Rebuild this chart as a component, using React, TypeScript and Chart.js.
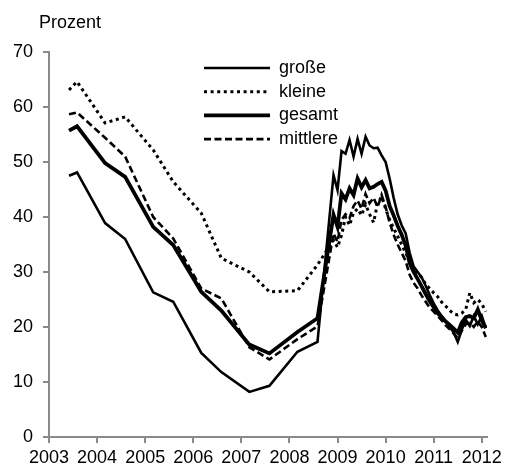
import React, { useEffect, useRef } from "react";
import { Chart, registerables } from "chart.js";

Chart.register(...registerables);

// Survey periods (semi-annual until 2008, monthly afterwards)
const periods: string[] = [
  "2003-06", "2003-08", "2004-03", "2004-08", "2005-03", "2005-08",
  "2006-03", "2006-08", "2007-03", "2007-08", "2008-03", "2008-08",
  "2008-12",
  "2009-01", "2009-02", "2009-03", "2009-04", "2009-05", "2009-06",
  "2009-07", "2009-08", "2009-09", "2009-10", "2009-11", "2009-12",
  "2010-01", "2010-02", "2010-03", "2010-04", "2010-05", "2010-06",
  "2010-07", "2010-08", "2010-09", "2010-10", "2010-11", "2010-12",
  "2011-01", "2011-02", "2011-03", "2011-04", "2011-05", "2011-06",
  "2011-07", "2011-08", "2011-09", "2011-10", "2011-11", "2011-12",
  "2012-01", "2012-02",
];

const grosse: number[] = [
  47.5, 48.1, 38.9, 36.0, 26.3, 24.6, 15.3, 11.8, 8.2, 9.3, 15.5, 17.3,
  47.6,
  44.9, 52.0, 51.5, 54.0, 51.0, 54.2, 51.5, 54.6, 53.0, 52.5, 52.6, 51.2,
  50.0, 47.0, 43.5, 40.5, 38.5, 37.0, 33.5, 31.0, 30.0, 29.0, 27.5, 25.8,
  24.3, 23.0, 22.0, 21.0, 20.0, 19.0, 17.3, 19.5, 21.3, 20.2, 22.0, 20.5,
  22.0, 19.8,
];

const kleine: number[] = [
  63.1, 64.6, 57.1, 58.2, 52.2, 46.4, 40.7, 32.5, 30.0, 26.4, 26.6, 31.3,
  35.8,
  34.5, 36.7, 40.0, 38.5, 40.8, 41.5, 40.3, 42.3, 40.5, 39.0, 42.5, 43.7,
  41.5, 39.5, 38.0, 36.5, 35.0, 33.5, 32.0, 30.5, 29.8, 29.0, 27.8, 27.0,
  26.2, 25.5, 24.5, 23.8, 23.0, 22.4, 22.2, 22.5, 23.2, 26.2, 24.4, 25.0,
  24.2, 22.8,
];

const gesamt: number[] = [
  55.7, 56.5, 49.8, 47.3, 38.2, 34.9, 26.4, 23.0, 16.8, 15.2, 19.1, 21.6,
  40.4,
  38.2, 44.3, 43.2, 45.2, 44.0, 47.0, 45.4, 46.7, 45.2, 45.5, 46.0, 46.4,
  44.8, 42.0, 40.3, 38.4, 36.8, 34.8, 31.6, 30.0, 28.7, 27.4, 26.0, 24.7,
  23.6, 22.5, 21.8, 21.0, 20.4, 19.7, 19.0, 20.8, 21.8, 22.0, 21.6, 23.2,
  21.2, 19.8,
];

const mittlere: number[] = [
  58.7, 59.0, 54.4, 51.0, 40.0, 36.1, 27.0, 25.2, 16.3, 14.1, 17.8, 20.1,
  37.0,
  35.5, 39.5, 40.5, 39.8, 42.0, 43.0, 41.5, 44.2, 42.5, 43.5, 41.8, 44.0,
  41.8, 39.0, 36.8, 35.0, 33.5, 32.0, 29.5, 28.0, 27.0, 25.7, 24.6, 23.5,
  22.8, 22.0, 21.2, 20.3, 19.6, 18.8, 18.0, 19.3, 20.5, 20.8, 20.0, 21.0,
  20.0, 18.2,
];

const yearTicks: number[] = [2003, 2004, 2005, 2006, 2007, 2008, 2009, 2010, 2011, 2012];
const yTicks: number[] = [0, 10, 20, 30, 40, 50, 60, 70];
const yAxisTitle = "Prozent";

const FONT = '"Liberation Sans", Arial, Helvetica, sans-serif';
const AXIS_GRAY = "#8a8a8a";

function toYear(p: string): number {
  const [y, m] = p.split("-").map(Number);
  return y + (m - 1) / 12;
}

function points(values: number[]) {
  return values.map((v, i) => ({ x: toYear(periods[i]), y: v }));
}

const overlayPlugin = {
  id: "overlay",
  afterDraw(chart: any) {
    const ctx = chart.ctx as CanvasRenderingContext2D;
    const { left, top } = chart.chartArea;
    ctx.save();
    ctx.font = `18px ${FONT}`;
    ctx.fillStyle = "#000";
    ctx.textBaseline = "middle";
    ctx.textAlign = "left";
    ctx.fillText(yAxisTitle, left - 10, top - 29);
    chart.data.datasets.forEach((ds: any, i: number) => {
      const y = top + 16 + i * 23.7;
      ctx.beginPath();
      ctx.lineWidth = ds.borderWidth;
      ctx.strokeStyle = ds.borderColor;
      ctx.lineCap = ds.borderCapStyle || "butt";
      ctx.setLineDash(ds.borderDash || []);
      ctx.moveTo(left + 155, y);
      ctx.lineTo(left + 221, y);
      ctx.stroke();
      ctx.setLineDash([]);
      ctx.fillText(ds.label, left + 230, y);
    });
    ctx.restore();
  },
};

export default function App() {
  const ref = useRef<HTMLCanvasElement>(null);
  useEffect(() => {
    if (!ref.current) return;
    const common = {
      pointRadius: 0,
      tension: 0,
      fill: false,
      borderColor: "#000",
    };
    const chart = new Chart(ref.current, {
      type: "line",
      data: {
        datasets: [
          { ...common, label: "große", data: points(grosse), borderWidth: 2.6 },
          { ...common, label: "kleine", data: points(kleine), borderWidth: 3, borderDash: [3, 3.6] },
          { ...common, label: "gesamt", data: points(gesamt), borderWidth: 3.8 },
          { ...common, label: "mittlere", data: points(mittlere), borderWidth: 2.6, borderDash: [7, 3.5] },
        ] as any,
      },
      options: {
        responsive: false,
        animation: false,
        layout: { padding: { top: 52, right: 15.3, bottom: 0, left: 0 } },
        plugins: { legend: { display: false }, tooltip: { enabled: false } },
        scales: {
          x: {
            type: "linear",
            min: 2003,
            max: 2012.11,
            afterBuildTicks: (scale: any) => {
              scale.ticks = yearTicks.map((v) => ({ value: v }));
            },
            afterFit: (scale: any) => {
              scale.height = 30;
            },
            ticks: {
              autoSkip: false,
              maxRotation: 0,
              padding: 4,
              color: "#000",
              font: { family: FONT, size: 18 },
              callback: (v: any) => String(v),
            },
            grid: {
              display: true,
              drawOnChartArea: false,
              drawTicks: true,
              tickLength: 6,
              color: AXIS_GRAY,
              lineWidth: 2,
            },
            border: { display: true, color: AXIS_GRAY, width: 2 },
          },
          y: {
            min: 0,
            max: 70,
            afterBuildTicks: (scale: any) => {
              scale.ticks = yTicks.map((v) => ({ value: v }));
            },
            afterFit: (scale: any) => {
              scale.width = 49;
            },
            ticks: {
              padding: 10,
              color: "#000",
              font: { family: FONT, size: 18 },
              callback: (v: any) => String(v),
            },
            grid: {
              display: true,
              drawOnChartArea: false,
              drawTicks: true,
              tickLength: 6,
              color: AXIS_GRAY,
              lineWidth: 2,
            },
            border: { display: true, color: AXIS_GRAY, width: 2 },
          },
        },
      } as any,
      plugins: [overlayPlugin],
    });
    return () => chart.destroy();
  }, []);
  return (
    <div style={{ position: "absolute", left: 0, top: 0, width: 506, height: 467, background: "#fff" }}>
      <canvas ref={ref} width={506} height={467} style={{ display: "block" }} />
    </div>
  );
}
